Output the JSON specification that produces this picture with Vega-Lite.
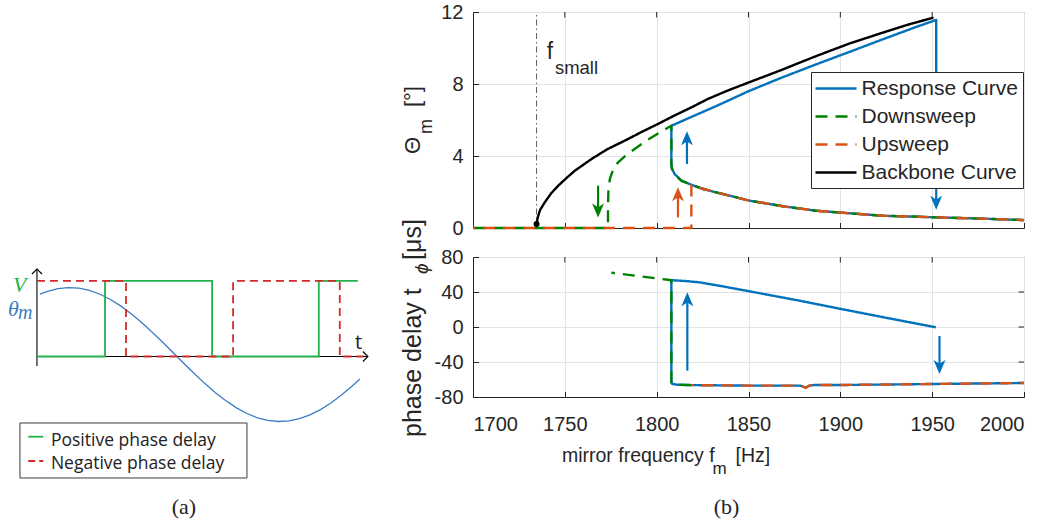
{
  "$schema": "https://vega.github.io/schema/vega-lite/v6.json",
  "padding": {"left": 0, "top": 1, "right": 0, "bottom": 0},
  "background": "white",
  "bounds": "flush",
  "spacing": 53,
  "config": {
    "view": {"stroke": null},
    "font": "Liberation Sans",
    "axis": {
      "domainColor": "#262626",
      "domainWidth": 1,
      "tickColor": "#262626",
      "tickWidth": 1,
      "tickSize": -5.5,
      "gridColor": "#e3e3e3",
      "gridWidth": 1,
      "labelColor": "#262626",
      "labelFont": "Liberation Sans",
      "labelFontSize": 20
    },
    "legend": {
      "orient": "none",
      "legendX": 338,
      "legendY": 60,
      "symbolType": "M-2,0L2,0",
      "symbolSize": 420,
      "symbolStrokeWidth": 2.4,
      "symbolOffset": 8.5,
      "labelFont": "Liberation Sans",
      "labelFontSize": 21,
      "labelColor": "#262626",
      "labelOffset": 14,
      "labelLimit": 400,
      "fillColor": "white",
      "strokeColor": "#262626",
      "padding": 5,
      "rowPadding": 6
    }
  },
  "datasets": {
    "sketchFrame": [{"t": -0.0405, "t2": 0.5, "v": -1.023, "v2": -1.869}],
    "sketchLines": [
      {"part": "axis", "t": 0, "t2": 0, "v": -0.146, "v2": 1.346},
      {"part": "axis", "t": 0, "t2": 0.788, "v": 0, "v2": 0},
      {"part": "positive", "t": -0.0207, "t2": 0.015, "v": -1.234, "v2": -1.234},
      {"part": "negative", "t": -0.0207, "t2": 0.015, "v": -1.608, "v2": -1.608}
    ],
    "sketchTips": [
      {"dir": "up", "t": 0, "v": 1.346},
      {"dir": "right", "t": 0.788, "v": 0}
    ],
    "sketchNotes": [
      {"key": "legend", "label": "Positive phase delay", "t": 0.0333, "v": -1.372},
      {"key": "legend", "label": "Negative phase delay", "t": 0.0333, "v": -1.731},
      {"key": "V", "label": "V", "t": -0.057, "v": 0.99},
      {"key": "theta", "label": "θ", "t": -0.069, "v": 0.623},
      {"key": "thetaSub", "label": "m", "t": -0.045, "v": 0.577},
      {"key": "time", "label": "t", "t": 0.757, "v": 0.115},
      {"key": "caption", "label": "(a)", "t": 0.35, "v": -2.42}
    ],
    "mirror": [
      {"t": 0.007, "v": 0.958}, {"t": 0.025, "v": 1.002}, {"t": 0.05, "v": 1.043}, {"t": 0.075, "v": 1.06},
      {"t": 0.1, "v": 1.051}, {"t": 0.125, "v": 1.017}, {"t": 0.15, "v": 0.958}, {"t": 0.175, "v": 0.877},
      {"t": 0.2, "v": 0.775}, {"t": 0.225, "v": 0.654}, {"t": 0.25, "v": 0.518}, {"t": 0.275, "v": 0.37},
      {"t": 0.3, "v": 0.214}, {"t": 0.325, "v": 0.053}, {"t": 0.35, "v": -0.108}, {"t": 0.375, "v": -0.266},
      {"t": 0.4, "v": -0.417}, {"t": 0.425, "v": -0.557}, {"t": 0.45, "v": -0.682}, {"t": 0.475, "v": -0.79},
      {"t": 0.5, "v": -0.877}, {"t": 0.525, "v": -0.943}, {"t": 0.55, "v": -0.983}, {"t": 0.575, "v": -1.0},
      {"t": 0.6, "v": -0.991}, {"t": 0.625, "v": -0.957}, {"t": 0.65, "v": -0.898}, {"t": 0.675, "v": -0.817},
      {"t": 0.7, "v": -0.715}, {"t": 0.725, "v": -0.594}, {"t": 0.75, "v": -0.458}, {"t": 0.769, "v": -0.347}
    ],
    "drive": [
      {"delay": "positive", "k": 1, "t": 0, "v": 0}, {"delay": "positive", "k": 2, "t": 0.162, "v": 0},
      {"delay": "positive", "k": 3, "t": 0.162, "v": 1.162}, {"delay": "positive", "k": 4, "t": 0.417, "v": 1.162},
      {"delay": "positive", "k": 5, "t": 0.417, "v": 0}, {"delay": "positive", "k": 6, "t": 0.671, "v": 0},
      {"delay": "positive", "k": 7, "t": 0.671, "v": 1.162}, {"delay": "positive", "k": 8, "t": 0.764, "v": 1.162},
      {"delay": "negative", "k": 1, "t": 0, "v": 1.162}, {"delay": "negative", "k": 2, "t": 0.212, "v": 1.162},
      {"delay": "negative", "k": 3, "t": 0.212, "v": 0}, {"delay": "negative", "k": 4, "t": 0.467, "v": 0},
      {"delay": "negative", "k": 5, "t": 0.467, "v": 1.162}, {"delay": "negative", "k": 6, "t": 0.721, "v": 1.162},
      {"delay": "negative", "k": 7, "t": 0.721, "v": 0}, {"delay": "negative", "k": 8, "t": 0.778, "v": 0}
    ],
    "fSmall": [{"f": 1734.6, "v": 0, "v2": 12}],
    "amplitudeFrameTicks": [
      {"edge": "top", "f": 1750, "v": 12}, {"edge": "top", "f": 1800, "v": 12}, {"edge": "top", "f": 1850, "v": 12},
      {"edge": "top", "f": 1900, "v": 12}, {"edge": "top", "f": 1950, "v": 12},
      {"edge": "right", "f": 2000, "v": 4}, {"edge": "right", "f": 2000, "v": 8}
    ],
    "phaseFrameTicks": [
      {"edge": "top", "f": 1750, "v": 80}, {"edge": "top", "f": 1800, "v": 80}, {"edge": "top", "f": 1850, "v": 80},
      {"edge": "top", "f": 1900, "v": 80}, {"edge": "top", "f": 1950, "v": 80},
      {"edge": "right", "f": 2000, "v": -40}, {"edge": "right", "f": 2000, "v": 0}, {"edge": "right", "f": 2000, "v": 40}
    ],
    "amplitudeNotes": [
      {"part": "fsmall", "label": "f", "f": 1740.2, "v": 9.39},
      {"part": "fsmallSub", "label": "small", "f": 1744.6, "v": 8.56},
      {"part": "title", "label": "Θ", "f": 1700, "v": 4.11},
      {"part": "titleSub", "label": "m", "f": 1700, "v": 5.22},
      {"part": "title", "label": "[°]", "f": 1700, "v": 6.72}
    ],
    "phaseNotes": [
      {"part": "title", "label": "phase delay t", "f": 1700, "v": -125.7},
      {"part": "titleSub", "label": "ϕ", "f": 1700, "v": 60.6},
      {"part": "title", "label": "[μs]", "f": 1700, "v": 76.6},
      {"part": "xtitle", "label": "mirror frequency f", "f": 1748.4, "v": -80},
      {"part": "xtitleSub", "label": "m", "f": 1830.4, "v": -80},
      {"part": "xtitle", "label": "[Hz]", "f": 1842.9, "v": -80},
      {"part": "caption", "label": "(b)", "f": 1838, "v": -80}
    ],
    "amplitude": [
      {"series": "Response Curve", "k": 1, "f": 2000, "v": 0.44},
      {"series": "Response Curve", "k": 2, "f": 1977.4, "v": 0.52},
      {"series": "Response Curve", "k": 3, "f": 1952, "v": 0.59},
      {"series": "Response Curve", "k": 4, "f": 1941.1, "v": 0.63},
      {"series": "Response Curve", "k": 5, "f": 1923, "v": 0.68},
      {"series": "Response Curve", "k": 6, "f": 1904.9, "v": 0.82},
      {"series": "Response Curve", "k": 7, "f": 1886.8, "v": 0.96},
      {"series": "Response Curve", "k": 8, "f": 1868.6, "v": 1.21},
      {"series": "Response Curve", "k": 9, "f": 1850.5, "v": 1.52},
      {"series": "Response Curve", "k": 10, "f": 1832.4, "v": 1.98},
      {"series": "Response Curve", "k": 11, "f": 1825, "v": 2.18},
      {"series": "Response Curve", "k": 12, "f": 1818.9, "v": 2.4},
      {"series": "Response Curve", "k": 13, "f": 1813.4, "v": 2.63},
      {"series": "Response Curve", "k": 14, "f": 1809.8, "v": 3.0},
      {"series": "Response Curve", "k": 15, "f": 1808.3, "v": 3.3},
      {"series": "Response Curve", "k": 16, "f": 1808, "v": 3.55},
      {"series": "Response Curve", "k": 17, "f": 1808, "v": 5.68},
      {"series": "Response Curve", "k": 18, "f": 1820, "v": 6.22},
      {"series": "Response Curve", "k": 19, "f": 1832.6, "v": 6.78},
      {"series": "Response Curve", "k": 20, "f": 1850, "v": 7.6},
      {"series": "Response Curve", "k": 21, "f": 1868.5, "v": 8.37},
      {"series": "Response Curve", "k": 22, "f": 1886.5, "v": 9.08},
      {"series": "Response Curve", "k": 23, "f": 1904.9, "v": 9.78},
      {"series": "Response Curve", "k": 24, "f": 1923, "v": 10.48},
      {"series": "Response Curve", "k": 25, "f": 1941.3, "v": 11.17},
      {"series": "Response Curve", "k": 26, "f": 1952.2, "v": 11.56},
      {"series": "Response Curve", "k": 27, "f": 1952.2, "v": 3.0},
      {"series": "Downsweep", "k": 1, "f": 2000, "v": 0.44},
      {"series": "Downsweep", "k": 2, "f": 1977.4, "v": 0.52},
      {"series": "Downsweep", "k": 3, "f": 1952, "v": 0.59},
      {"series": "Downsweep", "k": 4, "f": 1941.1, "v": 0.63},
      {"series": "Downsweep", "k": 5, "f": 1923, "v": 0.68},
      {"series": "Downsweep", "k": 6, "f": 1904.9, "v": 0.82},
      {"series": "Downsweep", "k": 7, "f": 1886.8, "v": 0.96},
      {"series": "Downsweep", "k": 8, "f": 1868.6, "v": 1.21},
      {"series": "Downsweep", "k": 9, "f": 1850.5, "v": 1.52},
      {"series": "Downsweep", "k": 10, "f": 1832.4, "v": 1.98},
      {"series": "Downsweep", "k": 11, "f": 1825, "v": 2.18},
      {"series": "Downsweep", "k": 12, "f": 1818.9, "v": 2.4},
      {"series": "Downsweep", "k": 13, "f": 1813.4, "v": 2.63},
      {"series": "Downsweep", "k": 14, "f": 1809.8, "v": 3.0},
      {"series": "Downsweep", "k": 15, "f": 1808.3, "v": 3.3},
      {"series": "Downsweep", "k": 16, "f": 1808, "v": 3.55},
      {"series": "Downsweep", "k": 17, "f": 1808, "v": 5.68},
      {"series": "Downsweep", "k": 18, "f": 1803.4, "v": 5.41},
      {"series": "Downsweep", "k": 19, "f": 1795.3, "v": 4.91},
      {"series": "Downsweep", "k": 20, "f": 1788, "v": 4.39},
      {"series": "Downsweep", "k": 21, "f": 1782.5, "v": 3.97},
      {"series": "Downsweep", "k": 22, "f": 1779, "v": 3.65},
      {"series": "Downsweep", "k": 23, "f": 1776.3, "v": 3.25},
      {"series": "Downsweep", "k": 24, "f": 1774.5, "v": 2.72},
      {"series": "Downsweep", "k": 25, "f": 1773.7, "v": 2.0},
      {"series": "Downsweep", "k": 26, "f": 1773.5, "v": 1.2},
      {"series": "Downsweep", "k": 27, "f": 1773.5, "v": 0},
      {"series": "Downsweep", "k": 28, "f": 1700, "v": 0},
      {"series": "Upsweep", "k": 1, "f": 1700, "v": 0},
      {"series": "Upsweep", "k": 2, "f": 1818.9, "v": 0},
      {"series": "Upsweep", "k": 3, "f": 1818.9, "v": 2.4},
      {"series": "Upsweep", "k": 4, "f": 1825, "v": 2.18},
      {"series": "Upsweep", "k": 5, "f": 1832.4, "v": 1.98},
      {"series": "Upsweep", "k": 6, "f": 1850.5, "v": 1.52},
      {"series": "Upsweep", "k": 7, "f": 1868.6, "v": 1.21},
      {"series": "Upsweep", "k": 8, "f": 1886.8, "v": 0.96},
      {"series": "Upsweep", "k": 9, "f": 1904.9, "v": 0.82},
      {"series": "Upsweep", "k": 10, "f": 1923, "v": 0.68},
      {"series": "Upsweep", "k": 11, "f": 1941.1, "v": 0.63},
      {"series": "Upsweep", "k": 12, "f": 1952, "v": 0.59},
      {"series": "Upsweep", "k": 13, "f": 1977.4, "v": 0.52},
      {"series": "Upsweep", "k": 14, "f": 2000, "v": 0.44},
      {"series": "Backbone Curve", "k": 1, "f": 1734.6, "v": 0.22},
      {"series": "Backbone Curve", "k": 2, "f": 1735.3, "v": 0.6},
      {"series": "Backbone Curve", "k": 3, "f": 1736.5, "v": 1.0},
      {"series": "Backbone Curve", "k": 4, "f": 1739.1, "v": 1.43},
      {"series": "Backbone Curve", "k": 5, "f": 1742.5, "v": 1.92},
      {"series": "Backbone Curve", "k": 6, "f": 1746.4, "v": 2.35},
      {"series": "Backbone Curve", "k": 7, "f": 1750.5, "v": 2.74},
      {"series": "Backbone Curve", "k": 8, "f": 1755.4, "v": 3.18},
      {"series": "Backbone Curve", "k": 9, "f": 1764.5, "v": 3.83},
      {"series": "Backbone Curve", "k": 10, "f": 1773, "v": 4.37},
      {"series": "Backbone Curve", "k": 11, "f": 1782.6, "v": 4.85},
      {"series": "Backbone Curve", "k": 12, "f": 1791.5, "v": 5.32},
      {"series": "Backbone Curve", "k": 13, "f": 1800.7, "v": 5.78},
      {"series": "Backbone Curve", "k": 14, "f": 1809.5, "v": 6.24},
      {"series": "Backbone Curve", "k": 15, "f": 1818.9, "v": 6.7},
      {"series": "Backbone Curve", "k": 16, "f": 1827.9, "v": 7.17},
      {"series": "Backbone Curve", "k": 17, "f": 1839, "v": 7.65},
      {"series": "Backbone Curve", "k": 18, "f": 1850.5, "v": 8.1},
      {"series": "Backbone Curve", "k": 19, "f": 1868.5, "v": 8.8},
      {"series": "Backbone Curve", "k": 20, "f": 1886.8, "v": 9.55},
      {"series": "Backbone Curve", "k": 21, "f": 1905, "v": 10.25},
      {"series": "Backbone Curve", "k": 22, "f": 1923, "v": 10.85},
      {"series": "Backbone Curve", "k": 23, "f": 1937, "v": 11.3},
      {"series": "Backbone Curve", "k": 24, "f": 1950.2, "v": 11.67}
    ],
    "phase": [
      {"series": "Response Curve", "k": 1, "f": 2000, "v": -64},
      {"series": "Response Curve", "k": 2, "f": 1952, "v": -65.1},
      {"series": "Response Curve", "k": 3, "f": 1900.4, "v": -66.3},
      {"series": "Response Curve", "k": 4, "f": 1885.9, "v": -66.3},
      {"series": "Response Curve", "k": 5, "f": 1883, "v": -67},
      {"series": "Response Curve", "k": 6, "f": 1881.3, "v": -69.5},
      {"series": "Response Curve", "k": 7, "f": 1879, "v": -67.5},
      {"series": "Response Curve", "k": 8, "f": 1877.7, "v": -67},
      {"series": "Response Curve", "k": 9, "f": 1850.5, "v": -67},
      {"series": "Response Curve", "k": 10, "f": 1818.9, "v": -66.4},
      {"series": "Response Curve", "k": 11, "f": 1811, "v": -66},
      {"series": "Response Curve", "k": 12, "f": 1808.5, "v": -65},
      {"series": "Response Curve", "k": 13, "f": 1808, "v": -63},
      {"series": "Response Curve", "k": 14, "f": 1808, "v": 53.5},
      {"series": "Response Curve", "k": 15, "f": 1816, "v": 52.5},
      {"series": "Response Curve", "k": 16, "f": 1823.4, "v": 51},
      {"series": "Response Curve", "k": 17, "f": 1835, "v": 46.8},
      {"series": "Response Curve", "k": 18, "f": 1850.5, "v": 40.8},
      {"series": "Response Curve", "k": 19, "f": 1877.7, "v": 30.1},
      {"series": "Response Curve", "k": 20, "f": 1900.4, "v": 20.6},
      {"series": "Response Curve", "k": 21, "f": 1925, "v": 10.5},
      {"series": "Response Curve", "k": 22, "f": 1952, "v": -0.3},
      {"series": "Downsweep", "k": 1, "f": 1818.9, "v": -66.4},
      {"series": "Downsweep", "k": 2, "f": 1811, "v": -66},
      {"series": "Downsweep", "k": 3, "f": 1808.5, "v": -65},
      {"series": "Downsweep", "k": 4, "f": 1808, "v": -63},
      {"series": "Downsweep", "k": 5, "f": 1808, "v": 53.5},
      {"series": "Downsweep", "k": 6, "f": 1806.1, "v": 54},
      {"series": "Downsweep", "k": 7, "f": 1775.4, "v": 62},
      {"series": "Upsweep", "k": 1, "f": 1818.9, "v": -66.4},
      {"series": "Upsweep", "k": 2, "f": 1850.5, "v": -67},
      {"series": "Upsweep", "k": 3, "f": 1877.7, "v": -67},
      {"series": "Upsweep", "k": 4, "f": 1879, "v": -67.5},
      {"series": "Upsweep", "k": 5, "f": 1881.3, "v": -69.5},
      {"series": "Upsweep", "k": 6, "f": 1883, "v": -67},
      {"series": "Upsweep", "k": 7, "f": 1885.9, "v": -66.3},
      {"series": "Upsweep", "k": 8, "f": 1900.4, "v": -66.3},
      {"series": "Upsweep", "k": 9, "f": 1952, "v": -65.1},
      {"series": "Upsweep", "k": 10, "f": 2000, "v": -64}
    ],
    "amplitudeJumps": [
      {"series": "Downsweep", "f": 1768.1, "from": 2.35, "to": 0.59},
      {"series": "Upsweep", "f": 1811.6, "from": 0.59, "to": 2.26},
      {"series": "Response Curve", "f": 1816.5, "from": 3.56, "to": 5.37},
      {"series": "Response Curve", "f": 1952.2, "from": 2.44, "to": 1.02}
    ],
    "phaseJumps": [
      {"series": "Response Curve", "f": 1816.7, "from": -49.9, "to": 39.6},
      {"series": "Response Curve", "f": 1954, "from": -10.3, "to": -53.7}
    ]
  },
  "hconcat": [
    {
      "width": 420,
      "height": 520,
      "encoding": {
        "x": {"field": "t", "type": "quantitative", "scale": {"domain": [-0.088, 0.912], "nice": false, "zero": false}, "axis": null},
        "y": {"field": "v", "type": "quantitative", "scale": {"domain": [-2.7, 5.3], "nice": false, "zero": false}, "axis": null}
      },
      "layer": [
        {
          "data": {"name": "sketchFrame"},
          "mark": {"type": "rect", "fill": "white", "stroke": "#3c3c3c", "strokeWidth": 1},
          "encoding": {"x2": {"field": "t2"}, "y2": {"field": "v2"}}
        },
        {
          "data": {"name": "sketchLines"},
          "transform": [{"filter": "datum.part === 'axis'"}],
          "mark": {"type": "rule", "color": "black", "strokeWidth": 1.1},
          "encoding": {"x2": {"field": "t2"}, "y2": {"field": "v2"}}
        },
        {
          "data": {"name": "sketchTips"},
          "transform": [{"filter": "datum.dir === 'up'"}],
          "mark": {"type": "point", "shape": "M-1,1L0,0L1,1", "size": 100, "filled": false, "stroke": "black", "strokeWidth": 1.1, "opacity": 1}
        },
        {
          "data": {"name": "sketchTips"},
          "transform": [{"filter": "datum.dir === 'right'"}],
          "mark": {"type": "point", "shape": "M-1,-1L0,0L-1,1", "size": 100, "filled": false, "stroke": "black", "strokeWidth": 1.1, "opacity": 1}
        },
        {
          "data": {"name": "mirror"},
          "mark": {"type": "line", "color": "#3b7cc2", "strokeWidth": 1.3}
        },
        {
          "data": {"name": "drive"},
          "transform": [{"filter": "datum.delay === 'positive'"}],
          "mark": {"type": "line", "color": "#22b14c", "strokeWidth": 1.8},
          "encoding": {"order": {"field": "k", "type": "quantitative"}}
        },
        {
          "data": {"name": "drive"},
          "transform": [{"filter": "datum.delay === 'negative'"}],
          "mark": {"type": "line", "color": "#d42a2a", "strokeWidth": 1.8, "strokeDash": [8, 5]},
          "encoding": {"order": {"field": "k", "type": "quantitative"}}
        },
        {
          "data": {"name": "sketchLines"},
          "transform": [{"filter": "datum.part === 'positive'"}],
          "mark": {"type": "rule", "color": "#22b14c", "strokeWidth": 1.8},
          "encoding": {"x2": {"field": "t2"}, "y2": {"field": "v2"}}
        },
        {
          "data": {"name": "sketchLines"},
          "transform": [{"filter": "datum.part === 'negative'"}],
          "mark": {"type": "rule", "color": "#d42a2a", "strokeWidth": 1.8, "strokeDash": [7, 4]},
          "encoding": {"x2": {"field": "t2"}, "y2": {"field": "v2"}}
        },
        {
          "data": {"name": "sketchNotes"},
          "transform": [{"filter": "datum.key === 'legend'"}],
          "mark": {"type": "text", "font": "Open Sans", "fontSize": 17.5, "color": "#222222", "align": "left", "baseline": "alphabetic"},
          "encoding": {"text": {"field": "label"}}
        },
        {
          "data": {"name": "sketchNotes"},
          "transform": [{"filter": "datum.key === 'V'"}],
          "mark": {"type": "text", "font": "Liberation Serif", "fontStyle": "italic", "fontSize": 22, "color": "#22b14c", "align": "left", "baseline": "alphabetic"},
          "encoding": {"text": {"field": "label"}}
        },
        {
          "data": {"name": "sketchNotes"},
          "transform": [{"filter": "datum.key === 'theta'"}],
          "mark": {"type": "text", "font": "Liberation Serif", "fontStyle": "italic", "fontSize": 22, "color": "#3b7cc2", "align": "left", "baseline": "alphabetic"},
          "encoding": {"text": {"field": "label"}}
        },
        {
          "data": {"name": "sketchNotes"},
          "transform": [{"filter": "datum.key === 'thetaSub'"}],
          "mark": {"type": "text", "font": "Liberation Serif", "fontStyle": "italic", "fontSize": 20, "color": "#3b7cc2", "align": "left", "baseline": "alphabetic"},
          "encoding": {"text": {"field": "label"}}
        },
        {
          "data": {"name": "sketchNotes"},
          "transform": [{"filter": "datum.key === 'time'"}],
          "mark": {"type": "text", "font": "Open Sans", "fontSize": 20, "color": "#222222", "align": "left", "baseline": "alphabetic"},
          "encoding": {"text": {"field": "label"}}
        },
        {
          "data": {"name": "sketchNotes"},
          "transform": [{"filter": "datum.key === 'caption'"}],
          "mark": {"type": "text", "font": "Liberation Serif", "fontSize": 22, "color": "#222222", "align": "center", "baseline": "alphabetic"},
          "encoding": {"text": {"field": "label"}}
        }
      ]
    },
    {
      "vconcat": [
        {
          "width": 551,
          "height": 216,
          "view": {"stroke": "#262626", "strokeWidth": 1},
          "data": {"name": "amplitude"},
          "encoding": {
            "x": {
              "field": "f", "type": "quantitative",
              "scale": {"domain": [1700, 2000], "nice": false, "zero": false},
              "axis": {"tickCount": 6, "labels": false, "title": null, "grid": true}
            },
            "y": {
              "field": "v", "type": "quantitative",
              "scale": {"domain": [0, 12], "nice": false, "zero": false},
              "axis": {
                "tickCount": 6, "title": null, "grid": true, "labelPadding": 15.5,
                "labelExpr": "datum.value % 4 === 0 ? '' + datum.value : ''",
                "gridOpacity": {"condition": {"test": "datum.value % 4 !== 0", "value": 0}, "value": 1},
                "tickOpacity": {"condition": {"test": "datum.value % 4 !== 0", "value": 0}, "value": 1}
              }
            }
          },
          "layer": [
            {
              "data": {"name": "amplitudeFrameTicks"},
              "transform": [{"filter": "datum.edge === 'top'"}],
              "mark": {"type": "rule", "color": "#262626", "strokeWidth": 1, "y2Offset": 5.5},
              "encoding": {"y2": {"field": "v"}}
            },
            {
              "data": {"name": "amplitudeFrameTicks"},
              "transform": [{"filter": "datum.edge === 'right'"}],
              "mark": {"type": "rule", "color": "#262626", "strokeWidth": 1, "x2Offset": -5.5},
              "encoding": {"x2": {"field": "f"}}
            },
            {
              "data": {"name": "fSmall"},
              "mark": {"type": "rule", "color": "#4d4d4d", "strokeWidth": 0.9, "strokeDash": [6, 3, 1.5, 3]},
              "encoding": {"y2": {"field": "v2"}}
            },
            {
              "data": {"name": "amplitudeNotes"},
              "transform": [{"filter": "datum.part === 'fsmall'"}],
              "mark": {"type": "text", "fontSize": 23, "color": "#262626", "align": "left", "baseline": "alphabetic"},
              "encoding": {"text": {"field": "label"}}
            },
            {
              "data": {"name": "amplitudeNotes"},
              "transform": [{"filter": "datum.part === 'fsmallSub'"}],
              "mark": {"type": "text", "fontSize": 18.5, "color": "#262626", "align": "left", "baseline": "alphabetic"},
              "encoding": {"text": {"field": "label"}}
            },
            {
              "transform": [{"filter": "datum.series === 'Response Curve'"}],
              "mark": {"type": "line", "strokeWidth": 2.4, "strokeJoin": "round"},
              "encoding": {
                "order": {"field": "k", "type": "quantitative"},
                "color": {"field": "series", "type": "nominal", "legend": {"title": null},
                  "scale": {"domain": ["Response Curve", "Downsweep", "Upsweep", "Backbone Curve"], "range": ["#0072bd", "#008000", "#d95319", "#000000"]}},
                "strokeDash": {"field": "series", "type": "nominal", "legend": {"title": null},
                  "scale": {"domain": ["Response Curve", "Downsweep", "Upsweep", "Backbone Curve"], "range": [[1, 0], [12, 8], [12, 8], [1, 0]]}}
              }
            },
            {
              "transform": [{"filter": "datum.series === 'Downsweep'"}],
              "mark": {"type": "line", "strokeWidth": 2.4, "strokeJoin": "round"},
              "encoding": {
                "order": {"field": "k", "type": "quantitative"},
                "color": {"field": "series", "type": "nominal", "legend": {"title": null},
                  "scale": {"domain": ["Response Curve", "Downsweep", "Upsweep", "Backbone Curve"], "range": ["#0072bd", "#008000", "#d95319", "#000000"]}},
                "strokeDash": {"field": "series", "type": "nominal", "legend": {"title": null},
                  "scale": {"domain": ["Response Curve", "Downsweep", "Upsweep", "Backbone Curve"], "range": [[1, 0], [12, 8], [12, 8], [1, 0]]}}
              }
            },
            {
              "transform": [{"filter": "datum.series === 'Upsweep'"}],
              "mark": {"type": "line", "strokeWidth": 2.4, "strokeJoin": "round", "strokeDashOffset": 10},
              "encoding": {
                "order": {"field": "k", "type": "quantitative"},
                "color": {"field": "series", "type": "nominal", "legend": {"title": null},
                  "scale": {"domain": ["Response Curve", "Downsweep", "Upsweep", "Backbone Curve"], "range": ["#0072bd", "#008000", "#d95319", "#000000"]}},
                "strokeDash": {"field": "series", "type": "nominal", "legend": {"title": null},
                  "scale": {"domain": ["Response Curve", "Downsweep", "Upsweep", "Backbone Curve"], "range": [[1, 0], [12, 8], [12, 8], [1, 0]]}}
              }
            },
            {
              "transform": [{"filter": "datum.series === 'Backbone Curve'"}],
              "mark": {"type": "line", "strokeWidth": 2.4, "strokeJoin": "round", "strokeCap": "round"},
              "encoding": {
                "order": {"field": "k", "type": "quantitative"},
                "color": {"field": "series", "type": "nominal", "legend": {"title": null},
                  "scale": {"domain": ["Response Curve", "Downsweep", "Upsweep", "Backbone Curve"], "range": ["#0072bd", "#008000", "#d95319", "#000000"]}},
                "strokeDash": {"field": "series", "type": "nominal", "legend": {"title": null},
                  "scale": {"domain": ["Response Curve", "Downsweep", "Upsweep", "Backbone Curve"], "range": [[1, 0], [12, 8], [12, 8], [1, 0]]}}
              }
            },
            {
              "transform": [{"filter": "datum.series === 'Backbone Curve' && datum.k === 1"}],
              "mark": {"type": "point", "filled": true, "size": 36, "color": "#000000", "opacity": 1}
            },
            {
              "data": {"name": "amplitudeJumps"},
              "transform": [{"filter": "datum.to < datum.from"}],
              "mark": {"type": "rule", "strokeWidth": 2.2, "y2Offset": -9},
              "encoding": {
                "y": {"field": "from", "type": "quantitative"},
                "y2": {"field": "to"},
                "color": {"field": "series", "type": "nominal", "legend": {"title": null},
                  "scale": {"domain": ["Response Curve", "Downsweep", "Upsweep", "Backbone Curve"], "range": ["#0072bd", "#008000", "#d95319", "#000000"]}}
              }
            },
            {
              "data": {"name": "amplitudeJumps"},
              "transform": [{"filter": "datum.to < datum.from"}],
              "mark": {"type": "point", "shape": "M0,0L-0.85,-2L0,-1.45L0.85,-2Z", "size": 196, "filled": true, "opacity": 1},
              "encoding": {
                "y": {"field": "to", "type": "quantitative"},
                "color": {"field": "series", "type": "nominal", "legend": {"title": null},
                  "scale": {"domain": ["Response Curve", "Downsweep", "Upsweep", "Backbone Curve"], "range": ["#0072bd", "#008000", "#d95319", "#000000"]}}
              }
            },
            {
              "data": {"name": "amplitudeJumps"},
              "transform": [{"filter": "datum.to > datum.from"}],
              "mark": {"type": "rule", "strokeWidth": 2.2, "y2Offset": 9},
              "encoding": {
                "y": {"field": "from", "type": "quantitative"},
                "y2": {"field": "to"},
                "color": {"field": "series", "type": "nominal", "legend": {"title": null},
                  "scale": {"domain": ["Response Curve", "Downsweep", "Upsweep", "Backbone Curve"], "range": ["#0072bd", "#008000", "#d95319", "#000000"]}}
              }
            },
            {
              "data": {"name": "amplitudeJumps"},
              "transform": [{"filter": "datum.to > datum.from"}],
              "mark": {"type": "point", "shape": "M0,0L-0.85,2L0,1.45L0.85,2Z", "size": 196, "filled": true, "opacity": 1},
              "encoding": {
                "y": {"field": "to", "type": "quantitative"},
                "color": {"field": "series", "type": "nominal", "legend": {"title": null},
                  "scale": {"domain": ["Response Curve", "Downsweep", "Upsweep", "Backbone Curve"], "range": ["#0072bd", "#008000", "#d95319", "#000000"]}}
              }
            },
            {
              "data": {"name": "amplitudeNotes"},
              "transform": [{"filter": "datum.part === 'title'"}],
              "mark": {"type": "text", "angle": 270, "fontSize": 22, "color": "#262626", "align": "left", "baseline": "alphabetic", "xOffset": -53},
              "encoding": {"text": {"field": "label"}}
            },
            {
              "data": {"name": "amplitudeNotes"},
              "transform": [{"filter": "datum.part === 'titleSub'"}],
              "mark": {"type": "text", "angle": 270, "fontSize": 18, "color": "#262626", "align": "left", "baseline": "alphabetic", "xOffset": -41},
              "encoding": {"text": {"field": "label"}}
            }
          ]
        },
        {
          "width": 551,
          "height": 140,
          "view": {"stroke": "#262626", "strokeWidth": 1},
          "data": {"name": "phase"},
          "encoding": {
            "x": {
              "field": "f", "type": "quantitative",
              "scale": {"domain": [1700, 2000], "nice": false, "zero": false},
              "axis": {"tickCount": 6, "title": null, "grid": true, "labelPadding": 23, "labelExpr": "'' + datum.value"}
            },
            "y": {
              "field": "v", "type": "quantitative",
              "scale": {"domain": [-80, 80], "nice": false, "zero": false},
              "axis": {
                "tickCount": 8, "title": null, "grid": true, "labelPadding": 15.5,
                "labelExpr": "datum.value % 40 === 0 ? '' + datum.value : ''",
                "gridOpacity": {"condition": {"test": "datum.value % 40 !== 0", "value": 0}, "value": 1},
                "tickOpacity": {"condition": {"test": "datum.value % 40 !== 0", "value": 0}, "value": 1}
              }
            }
          },
          "layer": [
            {
              "data": {"name": "phaseFrameTicks"},
              "transform": [{"filter": "datum.edge === 'top'"}],
              "mark": {"type": "rule", "color": "#262626", "strokeWidth": 1, "y2Offset": 5.5},
              "encoding": {"y2": {"field": "v"}}
            },
            {
              "data": {"name": "phaseFrameTicks"},
              "transform": [{"filter": "datum.edge === 'right'"}],
              "mark": {"type": "rule", "color": "#262626", "strokeWidth": 1, "x2Offset": -5.5},
              "encoding": {"x2": {"field": "f"}}
            },
            {
              "transform": [{"filter": "datum.series === 'Response Curve'"}],
              "mark": {"type": "line", "strokeWidth": 2.4, "strokeJoin": "round"},
              "encoding": {
                "order": {"field": "k", "type": "quantitative"},
                "color": {"field": "series", "type": "nominal", "legend": null,
                  "scale": {"domain": ["Response Curve", "Downsweep", "Upsweep", "Backbone Curve"], "range": ["#0072bd", "#008000", "#d95319", "#000000"]}},
                "strokeDash": {"field": "series", "type": "nominal", "legend": null,
                  "scale": {"domain": ["Response Curve", "Downsweep", "Upsweep", "Backbone Curve"], "range": [[1, 0], [12, 8], [12, 8], [1, 0]]}}
              }
            },
            {
              "transform": [{"filter": "datum.series === 'Downsweep'"}],
              "mark": {"type": "line", "strokeWidth": 2.4, "strokeJoin": "round"},
              "encoding": {
                "order": {"field": "k", "type": "quantitative"},
                "color": {"field": "series", "type": "nominal", "legend": null,
                  "scale": {"domain": ["Response Curve", "Downsweep", "Upsweep", "Backbone Curve"], "range": ["#0072bd", "#008000", "#d95319", "#000000"]}},
                "strokeDash": {"field": "series", "type": "nominal", "legend": null,
                  "scale": {"domain": ["Response Curve", "Downsweep", "Upsweep", "Backbone Curve"], "range": [[1, 0], [12, 8], [12, 8], [1, 0]]}}
              }
            },
            {
              "transform": [{"filter": "datum.series === 'Upsweep'"}],
              "mark": {"type": "line", "strokeWidth": 2.4, "strokeJoin": "round", "strokeDashOffset": 10},
              "encoding": {
                "order": {"field": "k", "type": "quantitative"},
                "color": {"field": "series", "type": "nominal", "legend": null,
                  "scale": {"domain": ["Response Curve", "Downsweep", "Upsweep", "Backbone Curve"], "range": ["#0072bd", "#008000", "#d95319", "#000000"]}},
                "strokeDash": {"field": "series", "type": "nominal", "legend": null,
                  "scale": {"domain": ["Response Curve", "Downsweep", "Upsweep", "Backbone Curve"], "range": [[1, 0], [12, 8], [12, 8], [1, 0]]}}
              }
            },
            {
              "data": {"name": "phaseJumps"},
              "transform": [{"filter": "datum.to < datum.from"}],
              "mark": {"type": "rule", "strokeWidth": 2.2, "y2Offset": -9},
              "encoding": {
                "y": {"field": "from", "type": "quantitative"},
                "y2": {"field": "to"},
                "color": {"field": "series", "type": "nominal", "legend": null,
                  "scale": {"domain": ["Response Curve", "Downsweep", "Upsweep", "Backbone Curve"], "range": ["#0072bd", "#008000", "#d95319", "#000000"]}}
              }
            },
            {
              "data": {"name": "phaseJumps"},
              "transform": [{"filter": "datum.to < datum.from"}],
              "mark": {"type": "point", "shape": "M0,0L-0.85,-2L0,-1.45L0.85,-2Z", "size": 196, "filled": true, "opacity": 1},
              "encoding": {
                "y": {"field": "to", "type": "quantitative"},
                "color": {"field": "series", "type": "nominal", "legend": null,
                  "scale": {"domain": ["Response Curve", "Downsweep", "Upsweep", "Backbone Curve"], "range": ["#0072bd", "#008000", "#d95319", "#000000"]}}
              }
            },
            {
              "data": {"name": "phaseJumps"},
              "transform": [{"filter": "datum.to > datum.from"}],
              "mark": {"type": "rule", "strokeWidth": 2.2, "y2Offset": 9},
              "encoding": {
                "y": {"field": "from", "type": "quantitative"},
                "y2": {"field": "to"},
                "color": {"field": "series", "type": "nominal", "legend": null,
                  "scale": {"domain": ["Response Curve", "Downsweep", "Upsweep", "Backbone Curve"], "range": ["#0072bd", "#008000", "#d95319", "#000000"]}}
              }
            },
            {
              "data": {"name": "phaseJumps"},
              "transform": [{"filter": "datum.to > datum.from"}],
              "mark": {"type": "point", "shape": "M0,0L-0.85,2L0,1.45L0.85,2Z", "size": 196, "filled": true, "opacity": 1},
              "encoding": {
                "y": {"field": "to", "type": "quantitative"},
                "color": {"field": "series", "type": "nominal", "legend": null,
                  "scale": {"domain": ["Response Curve", "Downsweep", "Upsweep", "Backbone Curve"], "range": ["#0072bd", "#008000", "#d95319", "#000000"]}}
              }
            },
            {
              "data": {"name": "phaseNotes"},
              "transform": [{"filter": "datum.part === 'title'"}],
              "mark": {"type": "text", "angle": 270, "fontSize": 25, "color": "#262626", "align": "left", "baseline": "alphabetic", "xOffset": -52},
              "encoding": {"text": {"field": "label"}}
            },
            {
              "data": {"name": "phaseNotes"},
              "transform": [{"filter": "datum.part === 'titleSub'"}],
              "mark": {"type": "text", "angle": 270, "fontSize": 19, "fontStyle": "italic", "color": "#262626", "align": "left", "baseline": "alphabetic", "xOffset": -45},
              "encoding": {"text": {"field": "label"}}
            },
            {
              "data": {"name": "phaseNotes"},
              "transform": [{"filter": "datum.part === 'xtitle'"}],
              "mark": {"type": "text", "fontSize": 19.5, "color": "#262626", "align": "left", "baseline": "alphabetic", "yOffset": 65},
              "encoding": {"text": {"field": "label"}}
            },
            {
              "data": {"name": "phaseNotes"},
              "transform": [{"filter": "datum.part === 'xtitleSub'"}],
              "mark": {"type": "text", "fontSize": 17, "color": "#262626", "align": "left", "baseline": "alphabetic", "yOffset": 77},
              "encoding": {"text": {"field": "label"}}
            },
            {
              "data": {"name": "phaseNotes"},
              "transform": [{"filter": "datum.part === 'caption'"}],
              "mark": {"type": "text", "font": "Liberation Serif", "fontSize": 22, "color": "#222222", "align": "center", "baseline": "alphabetic", "yOffset": 117},
              "encoding": {"text": {"field": "label"}}
            }
          ]
        }
      ],
      "spacing": 29,
      "bounds": "flush",
      "resolve": {"scale": {"color": "independent", "strokeDash": "independent"}}
    }
  ]
}
